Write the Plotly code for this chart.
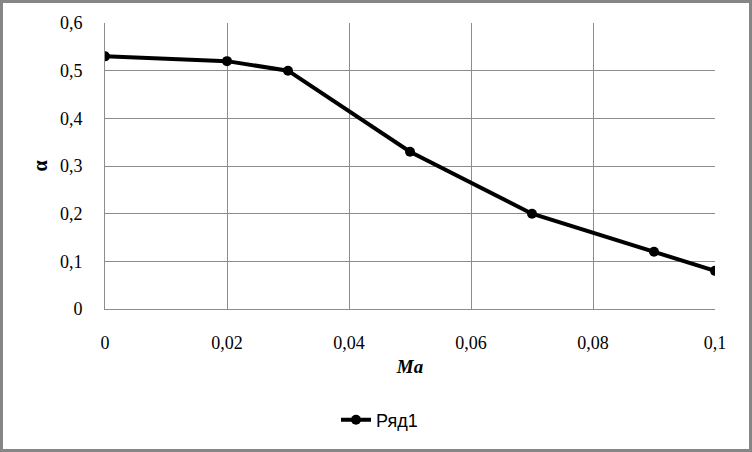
import plotly.graph_objects as go

# данные
ma = [0, 0.02, 0.03, 0.05, 0.07, 0.09, 0.1]
alpha = [0.53, 0.52, 0.50, 0.33, 0.20, 0.12, 0.08]

W, H = 752, 452
ML, MR, MT, MB = 105, 37, 23, 143
pw, ph = W - ML - MR, H - MT - MB

fig = go.Figure()
fig.add_trace(go.Scatter(
    x=ma, y=alpha, mode="lines+markers", name="Ряд1",
    line=dict(color="black", width=4),
    marker=dict(color="black", size=10),
))

grid = "#8c8c8c"
tick_font = dict(family="Liberation Serif", size=18, color="black")
fig.update_layout(
    width=W, height=H,
    margin=dict(l=ML, r=MR, t=MT, b=MB),
    paper_bgcolor="white", plot_bgcolor="white",
    separators=", ",
    font=dict(family="Liberation Serif", size=18, color="black"),
    xaxis=dict(
        range=[0, 0.1], dtick=0.02, showgrid=True, gridcolor=grid, gridwidth=1,
        zeroline=False, showline=True, linecolor=grid, ticks="", ticklabelstandoff=17,
        tickfont=tick_font,
        title=dict(text="<b><i>Ma</i></b>", font=dict(size=19), standoff=8),
    ),
    yaxis=dict(
        range=[0, 0.6], dtick=0.1, showgrid=True, gridcolor=grid, gridwidth=1,
        zeroline=False, showline=True, linecolor=grid, ticks="", ticklabelstandoff=18,
        tickfont=tick_font,
        title=dict(text="<b>α</b>", font=dict(size=20), standoff=6),
    ),
    showlegend=True,
    legend=dict(
        orientation="h", x=0.45, xanchor="center", y=-111 / ph, yanchor="middle",
        font=dict(family="Liberation Sans", size=18),
    ),
    shapes=[dict(
        type="rect", xref="paper", yref="paper",
        x0=-(ML - 1.5) / pw, x1=1 + (MR - 1.5) / pw,
        y0=-(MB - 1.5) / ph, y1=1 + (MT - 1.5) / ph,
        line=dict(color="#868686", width=3), layer="above",
    )],
)

fig.write_html("out.html", config={"displayModeBar": False},
               post_script="document.body.style.margin='0';")
